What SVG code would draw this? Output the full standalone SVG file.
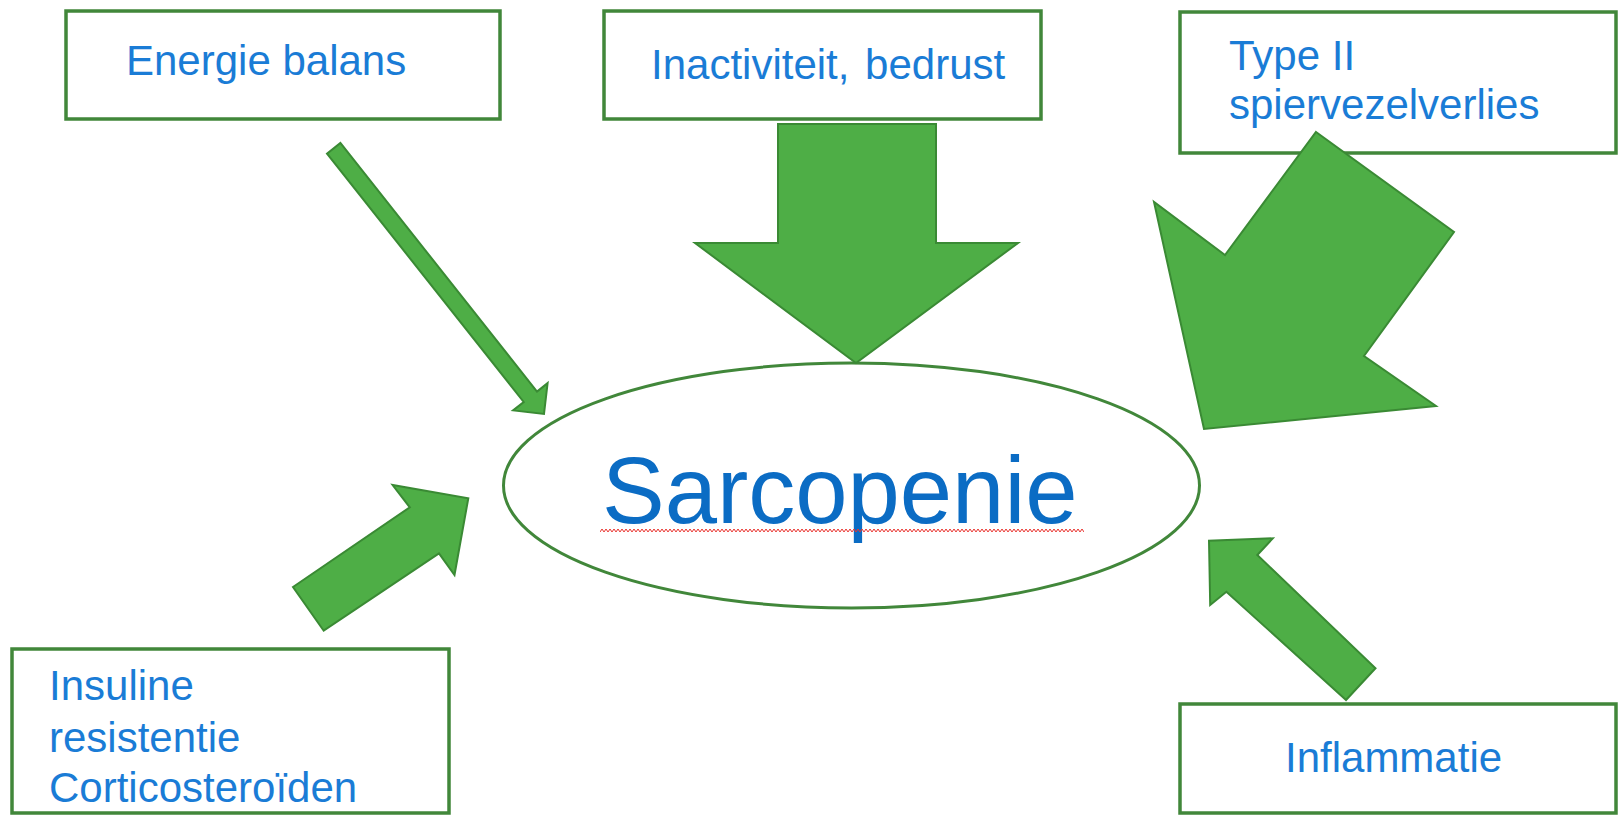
<svg xmlns="http://www.w3.org/2000/svg" width="1619" height="815" viewBox="0 0 1619 815">
  <style>
    .box { fill: #ffffff; stroke: #41873a; stroke-width: 3.5; }
    .lbl { font-family: "Liberation Sans", Arial, sans-serif; font-size: 42px; fill: #1a7cd6; }
    .big { font-family: "Liberation Sans", Arial, sans-serif; font-size: 94px; fill: #0b6cc4; }
    .arrow { fill: #4eae46; stroke: #3a8a34; stroke-width: 2; stroke-linejoin: miter; }
  </style>
  <defs>
    <!-- spell-check style squiggle under the central word -->
    <pattern id="squiggle" x="600" y="528" width="4" height="5" patternUnits="userSpaceOnUse">
      <path d="M0 4 L2 1 L4 4" fill="none" stroke="#e8322e" stroke-width="1"/>
    </pattern>
  </defs>
  <rect width="1619" height="815" fill="#ffffff"/>

  <g id="energie-balans">
    <rect class="box" x="66" y="11" width="434" height="108"/>
    <text class="lbl" x="126" y="75">Energie balans</text>
  </g>

  <g id="inactiviteit">
    <rect class="box" x="604" y="11" width="437" height="108"/>
    <text class="lbl" x="651" y="79">Inactiviteit,<tspan dx="4"> bedrust</tspan></text>
  </g>

  <g id="type-ii">
    <rect class="box" x="1180" y="12" width="436" height="141"/>
    <text class="lbl" x="1229" y="70">Type II</text>
    <text class="lbl" x="1229" y="119">spiervezelverlies</text>
  </g>

  <g id="insuline">
    <rect class="box" x="12" y="649" width="437" height="164"/>
    <text class="lbl" x="49" y="700">Insuline</text>
    <text class="lbl" x="49" y="752">resistentie</text>
    <text class="lbl" x="49" y="802">Corticosteroïden</text>
  </g>

  <g id="inflammatie">
    <rect class="box" x="1180" y="704" width="436" height="109"/>
    <text class="lbl" x="1285" y="772">Inflammatie</text>
  </g>

  <g id="sarcopenie">
    <ellipse cx="851.5" cy="485.5" rx="348" ry="122.5" fill="#ffffff" stroke="#41873a" stroke-width="3"/>
    <text class="big" x="602" y="523">Sarcopenie</text>
    <rect x="600" y="528" width="484" height="5" fill="url(#squiggle)"/>
  </g>

  <g id="connectors">
    <polygon class="arrow" points="327,153.6 523.7,402 513.1,410.4 544,414 547.6,383.1 537,391.5 340.4,143"/>
    <polygon class="arrow" points="778,124 936,124 936,243 1018,243 856,363 695,243 778,243"/>
    <polygon class="arrow" points="1316,132 1454,232 1364,356 1436,406 1204,429 1154,202 1225,255"/>
    <polygon class="arrow" points="293,587 409.8,507.3 392.6,485 468.3,498.3 454.5,575 439,553.3 323.7,630.7"/>
    <polygon class="arrow" points="1346,700 1226.4,591.7 1210.2,605 1209,540.7 1272.8,538.3 1257.3,555 1375.5,668.3"/>
  </g>
</svg>
